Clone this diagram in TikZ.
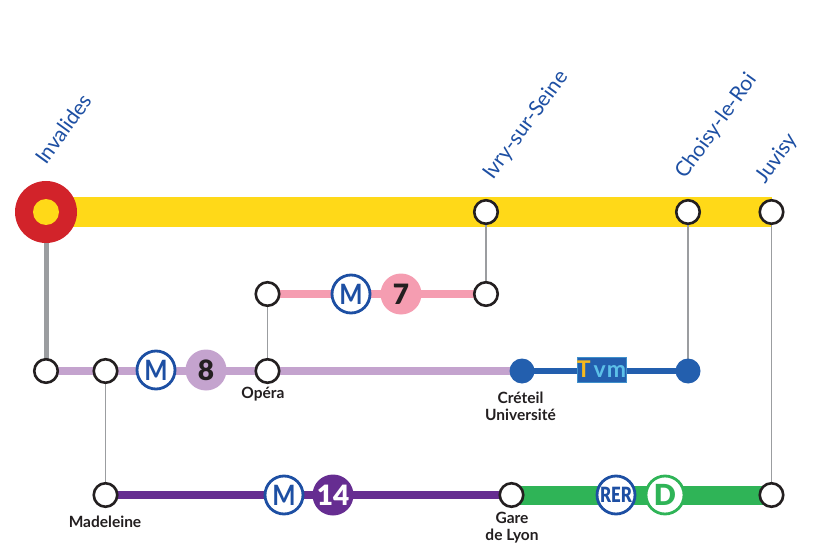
\documentclass[tikz,border=0pt]{standalone}
\usepackage{fontspec}
\usepackage{graphicx}
\setmainfont{Lato}
\newfontfamily\heavy{Lato Black}
\definecolor{jaune}{HTML}{FFD918}
\definecolor{rouge}{HTML}{D2232A}
\definecolor{mviolet}{HTML}{C4A3CE}
\definecolor{mrose}{HTML}{F59DB1}
\definecolor{mpourpre}{HTML}{662D91}
\definecolor{rervert}{HTML}{2FB457}
\definecolor{bleu}{HTML}{1D4FA3}
\definecolor{tvmbleu}{HTML}{235FAE}
\definecolor{tvmciel}{HTML}{5CC0E8}
\definecolor{tvmor}{HTML}{F6B91E}
\definecolor{gris}{HTML}{9B9DA0}
\definecolor{encre}{HTML}{231F20}
\pgfdeclarelayer{bg}
\pgfsetlayers{bg,main}
\tikzset{
  x=1pt,y=-1pt,
  stat/.style={circle,draw=encre,line width=2.6pt,fill=white,minimum size=23.5pt,inner sep=0pt,outer sep=0pt},
  tvmstat/.style={circle,fill=tvmbleu,minimum size=25pt,inner sep=0pt,outer sep=0pt},
  badge/.style={circle,minimum size=41pt,inner sep=0pt,outer sep=0pt,font=\fontsize{28}{28}\heavy},
  mbadge/.style={badge,draw=bleu,line width=2.8pt,fill=white,text=bleu,minimum size=38pt,font=\fontsize{28}{28}\selectfont\bfseries},
  lnk/.style={draw=gris,line width=1.6pt},
  place/.style={text=bleu,rotate=54,anchor=base west,inner sep=0pt,font=\fontsize{21}{21}\selectfont},
  lab/.style={text=encre,align=center,inner sep=0pt,font=\fontsize{15.5}{17}\selectfont\bfseries},
}
\begin{document}
\begin{tikzpicture}
\useasboundingbox (0,0) rectangle (821,553);
% stations
\node[circle,fill=rouge,minimum size=62pt,inner sep=0pt,outer sep=0pt] (inv) at (46,212) {};
\node[stat] (ivry) at (486,212) {};
\node[stat] (chy) at (688,212) {};
\node[stat] (juv) at (771.5,212) {};
\node[stat] (s7a) at (267.5,294) {};
\node[stat] (s7b) at (486,294) {};
\node[stat] (s8a) at (46,371) {};
\node[stat] (mad) at (105.5,371) {};
\node[stat] (ope) at (267.5,371) {};
\node[tvmstat] (cre) at (522,371) {};
\node[tvmstat] (chb) at (688,371) {};
\node[stat] (madb) at (105.5,495) {};
\node[stat] (gdl) at (511.5,495) {};
\node[stat] (juvb) at (771.5,495) {};
% connectors, behind the stations
\begin{pgfonlayer}{bg}
\draw[jaune,line width=29.5pt] (inv.center) -- (juv.center);
\draw[gris,line width=5pt] (inv.center) -- (s8a.center);
\draw[lnk] (ivry.center) -- (s7b.center);
\draw[lnk] (chy.center) -- (chb.center);
\draw[lnk] (juv.center) -- (juvb.center);
\draw[lnk] (s7a.center) -- (ope.center);
\draw[lnk] (mad.center) -- (madb.center);
\draw[mrose,line width=8pt] (s7a.center) -- (s7b.center);
\draw[mviolet,line width=8pt] (s8a.center) -- (cre.center);
\draw[tvmbleu,line width=5.5pt] (cre.center) -- (chb.center);
\draw[mpourpre,line width=8pt] (madb.center) -- (gdl.center);
\draw[rervert,line width=19pt] (gdl.center) -- (juvb.center);
\end{pgfonlayer}
\node[circle,fill=jaune,minimum size=26pt,inner sep=0pt] (invc) at (46,212) {};
% badges
\node[mbadge] (m8) at (156,370) {\scalebox{0.88}[1]{M}};
\node[badge,fill=mviolet,text=encre] (b8) at (206,370) {8};
\node[mbadge] (m7) at (351,294) {\scalebox{0.88}[1]{M}};
\node[badge,fill=mrose,text=encre] (b7) at (401,294) {7};
\node[mbadge] (m14) at (284,495) {\scalebox{0.88}[1]{M}};
\node[badge,fill=mpourpre,text=white] (b14) at (333,495) {14};
\node[mbadge,font=\fontsize{21}{21}\heavy] (rer) at (616,495) {\scalebox{0.8}[1]{RER}};
\node[mbadge,draw=rervert,text=rervert,font=\fontsize{29}{29}\heavy] (d) at (665,495) {D};
\node[fill=tvmbleu,draw=tvmciel!50!tvmbleu,line width=0.5pt,minimum width=49pt,minimum height=25pt,inner sep=0pt,font=\fontsize{23}{23}\selectfont\bfseries] (tvm) at (601.5,369.5) {\textcolor{tvmor}{T}\textcolor{tvmciel}{\kern3pt v\kern1pt m}};
% labels
\node[place] (t1) at (46,166) {Invalides};
\node[place] (t2) at (493,181) {Ivry-sur-Seine};
\node[place] (t3) at (685,180) {Choisy-le-Roi};
\node[place] (t4) at (765,185) {Juvisy};
\node[lab] (l1) at (263,394.5) {Opéra};
\node[lab] (l2) at (520.5,406.5) {Créteil\\Université};
\node[lab] (l3) at (105,522) {Madeleine};
\node[lab] (l4) at (512,528) {Gare\\de Lyon};
\end{tikzpicture}
\end{document}
